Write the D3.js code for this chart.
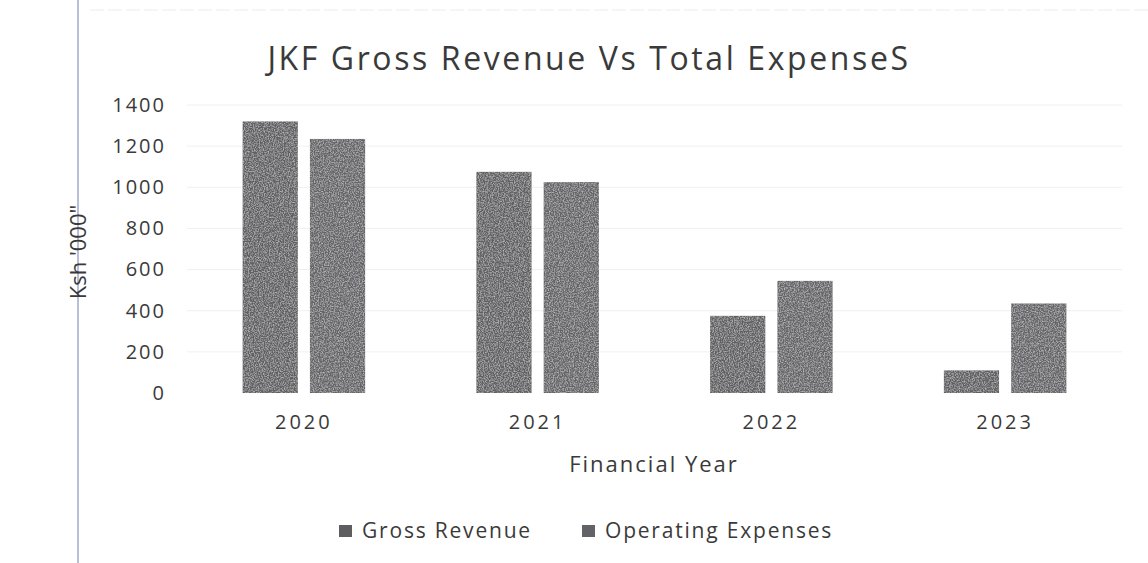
<!DOCTYPE html>
<html>
<head>
<meta charset="utf-8">
<script src="https://cdn.jsdelivr.net/npm/d3@7"></script>
<style>
  body { margin: 0; background: #fff; }
  text { font-family: "Open Sans", "Noto Sans", sans-serif; fill: #3a3a3a; }
</style>
</head>
<body>
<div id="chart"></div>
<script>
const years = ["2020", "2021", "2022", "2023"];
const seriesNames = ["Gross Revenue", "Operating Expenses"];
const grossRevenue = [1320, 1075, 375, 110];
const operatingExpenses = [1235, 1025, 545, 435];
const yTicks = [0, 200, 400, 600, 800, 1000, 1200, 1400];

const svgWidth = 1148, svgHeight = 563;
const margin = { top: 105, right: 26, bottom: 170, left: 187 };
const width = svgWidth - margin.left - margin.right;
const height = svgHeight - margin.top - margin.bottom;

const svg = d3.select("#chart").append("svg")
  .attr("width", svgWidth)
  .attr("height", svgHeight);

// scan grain for the bars
const defs = svg.append("defs");
const grain = defs.append("filter").attr("id", "grain").attr("x", 0).attr("y", 0).attr("width", 1).attr("height", 1);
grain.append("feTurbulence").attr("type", "fractalNoise").attr("baseFrequency", 0.8).attr("numOctaves", 2).attr("seed", 3).attr("result", "noise");
grain.append("feColorMatrix").attr("in", "noise").attr("type", "matrix")
  .attr("values", "0 0 0 0 1  0 0 0 0 1  0 0 0 0 1  0.9 0 0 0 -0.35").attr("result", "specks");
grain.append("feComposite").attr("in", "specks").attr("in2", "SourceGraphic").attr("operator", "in").attr("result", "clip");
grain.append("feMerge").call(m => {
  m.append("feMergeNode").attr("in", "SourceGraphic");
  m.append("feMergeNode").attr("in", "clip");
});

// page edges from the scan
svg.append("line")
  .attr("x1", 78).attr("x2", 78).attr("y1", 0).attr("y2", svgHeight)
  .attr("stroke", "#b8bfd6").attr("stroke-width", 2);
svg.append("line")
  .attr("x1", 90).attr("x2", svgWidth).attr("y1", 10).attr("y2", 10)
  .attr("stroke", "#ececec").attr("stroke-width", 1).attr("stroke-dasharray", "14 4");

const g = svg.append("g").attr("transform", `translate(${margin.left},${margin.top})`);

const x = d3.scaleBand().domain(years).range([0, width]);
const x1 = d3.scaleBand().domain(seriesNames).range([x.bandwidth() * 0.238, x.bandwidth() * 0.762]).paddingInner(0.18);
const y = d3.scaleLinear().domain([0, 1400]).range([height, 0]);

// faint gridlines
g.append("g").selectAll("line").data(yTicks.slice(1)).join("line")
  .attr("x1", 0).attr("x2", width)
  .attr("y1", d => y(d)).attr("y2", d => y(d))
  .attr("stroke", "#f0f0f0").attr("stroke-width", 1);

const data = years.map((yr, i) => ({ year: yr, values: [grossRevenue[i], operatingExpenses[i]] }));
const colors = ["#5e5e62", "#636367"];

const groups = g.selectAll("g.year").data(data).join("g")
  .attr("class", "year")
  .attr("transform", d => `translate(${x(d.year)},0)`);

groups.selectAll("rect").data(d => d.values.map((v, j) => ({ name: seriesNames[j], v, j }))).join("rect")
  .attr("x", d => x1(d.name))
  .attr("width", x1.bandwidth())
  .attr("y", d => y(d.v))
  .attr("height", d => y(0) - y(d.v))
  .attr("fill", d => colors[d.j])
  .attr("filter", "url(#grain)");

// y axis labels
const yAxis = g.append("g").call(d3.axisLeft(y).tickValues(yTicks).tickFormat(d3.format("d")).tickSize(0).tickPadding(21));
yAxis.select(".domain").remove();
yAxis.selectAll("text").style("font-size", "20px").attr("fill", "#3a3a3a").attr("letter-spacing", "2px");

// x axis labels
const xAxis = g.append("g").attr("transform", `translate(0,${height})`)
  .call(d3.axisBottom(x).tickSize(0).tickPadding(22));
xAxis.select(".domain").remove();
xAxis.selectAll("text").style("font-size", "20px").attr("fill", "#3a3a3a").attr("letter-spacing", "3px");

// title
svg.append("text")
  .attr("x", 589).attr("y", 70)
  .attr("text-anchor", "middle")
  .style("font-size", "32px")
  .attr("letter-spacing", "2.6px")
  .text("JKF Gross Revenue Vs Total ExpenseS");

// axis titles
svg.append("text")
  .attr("x", 654).attr("y", 472)
  .attr("text-anchor", "middle")
  .style("font-size", "22px")
  .attr("letter-spacing", "2px")
  .text("Financial Year");

svg.append("text")
  .attr("transform", "translate(86,252) rotate(-90)")
  .attr("text-anchor", "middle")
  .style("font-size", "22px")
  .text("Ksh '000\"");

// legend
const legendX = [339, 582];
const legend = svg.append("g").selectAll("g").data(seriesNames).join("g")
  .attr("transform", (d, i) => `translate(${legendX[i]},531)`);
legend.append("rect").attr("x", 0).attr("y", -6).attr("width", 13).attr("height", 12)
  .attr("fill", (d, i) => colors[i]);
legend.append("text").attr("x", 23).attr("y", 7)
  .style("font-size", "21px").attr("letter-spacing", "1.8px")
  .text(d => d);
</script>
</body>
</html>
